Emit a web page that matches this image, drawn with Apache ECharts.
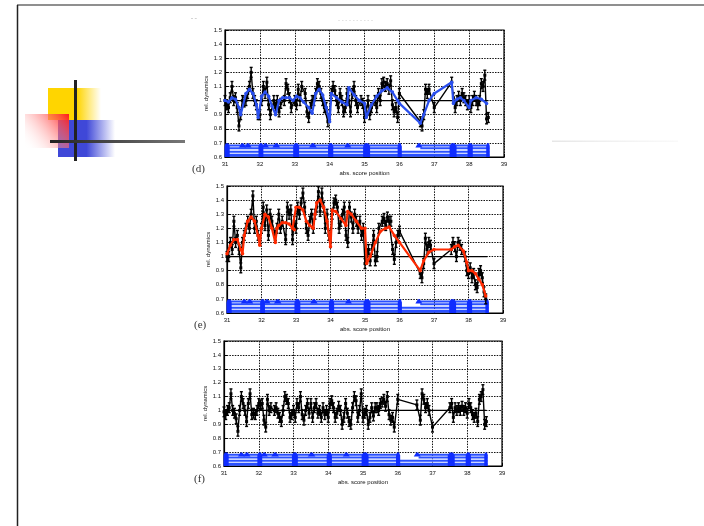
<!DOCTYPE html>
<html><head><meta charset="utf-8">
<script src="https://cdn.jsdelivr.net/npm/echarts@6/dist/echarts.min.js"></script>
<style>html,body{margin:0;padding:0;background:#fff}#c{width:704px;height:526px}</style>
</head><body><div id="c"></div>
<script>
// ---------- data ----------
const xTicks = [31,32,33,34,35,36,37,38,39];
const yTicks = [0.6,0.7,0.8,0.9,1,1.1,1.2,1.3,1.4,1.5];
const panelLabels = ['(d)','(e)','(f)'];
const xName = 'abs. score position';
const yName = 'rel. dynamics';

const blackD = [[31.0,1.0],[31.05,0.97],[31.1,0.95],[31.15,1.02],[31.2,1.1],[31.25,1.0],[31.3,1.02],[31.35,0.95],[31.4,0.82],[31.45,0.9],[31.5,1.0],[31.55,0.99],[31.6,1.0],[31.65,1.05],[31.7,1.1],[31.75,1.2],[31.8,1.05],[31.85,1.0],[31.9,0.97],[31.95,0.9],[32.0,0.9],[32.05,1.0],[32.1,1.1],[32.15,1.05],[32.2,1.13],[32.25,0.97],[32.3,0.9],[32.4,1.0],[32.45,0.95],[32.5,1.0],[32.55,0.92],[32.6,0.98],[32.7,1.0],[32.75,1.12],[32.8,1.08],[32.85,1.02],[32.9,0.95],[33.0,1.0],[33.05,0.97],[33.1,1.08],[33.15,1.0],[33.2,1.1],[33.3,1.05],[33.35,0.92],[33.4,0.88],[33.45,0.95],[33.5,1.0],[33.55,1.0],[33.6,1.05],[33.65,1.12],[33.7,1.1],[33.75,1.05],[33.8,1.0],[33.85,0.95],[33.9,0.95],[33.95,0.85],[34.0,0.9],[34.05,1.05],[34.1,1.1],[34.15,1.07],[34.2,1.0],[34.25,0.95],[34.3,1.05],[34.35,1.0],[34.4,0.92],[34.45,0.95],[34.5,1.05],[34.55,1.0],[34.6,0.92],[34.65,1.05],[34.7,1.1],[34.75,1.0],[34.8,0.95],[34.9,1.0],[34.95,0.98],[35.0,0.88],[35.05,0.92],[35.1,1.0],[35.15,0.9],[35.2,0.95],[35.3,1.0],[35.35,0.95],[35.4,1.05],[35.45,1.0],[35.5,1.12],[35.55,1.13],[35.6,1.1],[35.65,1.12],[35.7,1.08],[35.75,1.14],[35.8,0.97],[35.85,0.92],[35.9,0.95],[35.95,0.88],[36.0,1.05],[36.6,0.85],[36.65,0.82],[36.7,0.9],[36.75,1.08],[36.8,1.05],[36.85,1.08],[37.0,0.95],[37.5,1.13],[37.55,1.02],[37.6,0.95],[37.65,1.0],[37.7,1.03],[37.75,1.0],[37.8,1.05],[37.85,1.02],[37.9,1.0],[37.95,0.97],[38.0,1.0],[38.05,0.95],[38.1,1.0],[38.15,1.03],[38.2,1.0],[38.25,0.97],[38.3,1.0],[38.35,1.12],[38.4,1.1],[38.45,1.18],[38.5,0.87],[38.55,0.88]];

const blueD = [[31.0,1.0],[31.1,0.99],[31.2,1.02],[31.3,1.01],[31.4,0.95],[31.45,0.9],[31.6,1.05],[31.7,1.08],[31.8,1.05],[31.9,0.97],[31.95,0.88],[32.05,1.03],[32.15,1.06],[32.25,1.03],[32.35,0.96],[32.45,0.9],[32.55,1.0],[32.65,1.02],[32.75,1.02],[32.85,1.02],[32.95,1.0],[33.05,1.03],[33.15,1.02],[33.25,0.99],[33.4,0.95],[33.5,0.91],[33.6,1.05],[33.7,1.08],[33.8,1.04],[33.9,0.95],[34.0,0.85],[34.05,1.05],[34.2,1.02],[34.35,0.99],[34.5,0.97],[34.55,1.09],[34.7,1.04],[34.85,1.0],[35.0,0.98],[35.05,0.88],[35.2,0.97],[35.35,1.03],[35.5,1.07],[35.65,1.09],[35.8,1.06],[35.95,1.0],[36.0,0.98],[36.6,0.84],[36.7,0.9],[36.85,1.0],[37.0,1.05],[37.5,1.13],[37.55,0.98],[37.65,1.01],[37.75,1.02],[37.85,1.0],[38.0,0.95],[38.05,1.0],[38.2,1.02],[38.35,1.01],[38.5,0.98]];

const blackE = [[31.0,1.0],[31.05,1.0],[31.1,1.1],[31.15,1.05],[31.2,1.25],[31.25,1.1],[31.3,1.15],[31.35,1.05],[31.4,0.92],[31.45,1.1],[31.5,1.15],[31.55,1.2],[31.6,1.25],[31.65,1.2],[31.7,1.3],[31.75,1.43],[31.8,1.2],[31.85,1.25],[31.9,1.15],[31.95,1.12],[32.0,1.2],[32.05,1.35],[32.1,1.22],[32.15,1.33],[32.2,1.15],[32.25,1.3],[32.3,1.25],[32.4,1.15],[32.45,1.2],[32.5,1.3],[32.55,1.2],[32.6,1.25],[32.7,1.12],[32.75,1.35],[32.8,1.3],[32.85,1.33],[32.9,1.12],[32.95,1.25],[33.0,1.2],[33.05,1.35],[33.1,1.3],[33.15,1.38],[33.2,1.45],[33.25,1.35],[33.3,1.2],[33.35,1.15],[33.4,1.25],[33.45,1.3],[33.5,1.2],[33.55,1.3],[33.6,1.35],[33.65,1.46],[33.7,1.32],[33.75,1.45],[33.8,1.35],[33.85,1.2],[33.9,1.3],[33.95,1.15],[34.0,1.1],[34.05,1.3],[34.1,1.38],[34.15,1.4],[34.2,1.35],[34.25,1.2],[34.3,1.25],[34.35,1.3],[34.4,1.35],[34.45,1.15],[34.5,1.1],[34.55,1.35],[34.6,1.28],[34.65,1.2],[34.7,1.3],[34.75,1.25],[34.8,1.2],[34.85,1.25],[34.9,1.15],[34.95,1.2],[35.0,0.95],[35.05,1.0],[35.1,1.05],[35.15,0.97],[35.2,1.05],[35.25,1.15],[35.3,0.97],[35.35,1.0],[35.4,1.2],[35.5,1.25],[35.55,1.27],[35.6,1.22],[35.65,1.28],[35.7,1.25],[35.75,1.25],[35.8,1.05],[35.85,0.98],[35.9,1.1],[35.95,1.15],[36.0,1.18],[36.6,0.88],[36.65,0.85],[36.7,0.95],[36.75,1.13],[36.8,1.05],[36.85,1.1],[36.9,1.08],[37.0,0.95],[37.5,1.05],[37.55,1.1],[37.6,1.07],[37.65,1.0],[37.7,1.1],[37.75,1.08],[37.8,1.05],[37.9,1.0],[37.95,0.9],[38.0,0.88],[38.05,0.92],[38.1,0.85],[38.15,0.88],[38.2,0.8],[38.25,0.78],[38.3,0.88],[38.35,0.9],[38.4,0.85],[38.45,0.75],[38.5,0.7]];

const redE = [[31.0,1.02],[31.1,1.08],[31.2,1.12],[31.3,1.12],[31.4,1.05],[31.45,1.02],[31.5,1.15],[31.6,1.25],[31.7,1.28],[31.8,1.25],[31.9,1.15],[31.95,1.08],[32.0,1.2],[32.1,1.3],[32.2,1.28],[32.3,1.2],[32.4,1.1],[32.45,1.2],[32.5,1.22],[32.6,1.24],[32.7,1.24],[32.8,1.23],[32.9,1.2],[32.95,1.19],[33.0,1.35],[33.1,1.35],[33.2,1.33],[33.3,1.25],[33.4,1.22],[33.5,1.2],[33.55,1.3],[33.6,1.38],[33.7,1.4],[33.8,1.35],[33.9,1.25],[34.0,1.07],[34.05,1.33],[34.15,1.32],[34.3,1.27],[34.45,1.22],[34.5,1.32],[34.6,1.3],[34.75,1.25],[34.9,1.2],[35.0,1.2],[35.05,0.95],[35.15,1.0],[35.3,1.1],[35.45,1.18],[35.6,1.2],[35.7,1.21],[35.85,1.15],[36.0,1.1],[36.6,0.9],[36.7,0.97],[36.85,1.03],[37.0,1.05],[37.5,1.05],[37.6,1.07],[37.7,1.08],[37.85,1.04],[37.95,0.96],[38.0,0.9],[38.1,0.9],[38.2,0.88],[38.3,0.84],[38.4,0.8],[38.5,0.72]];

const blackF = [[31.0,0.99],[31.05,0.97],[31.1,1.0],[31.15,1.02],[31.2,1.12],[31.25,1.0],[31.3,0.98],[31.35,0.94],[31.4,0.85],[31.45,1.0],[31.5,1.1],[31.55,1.05],[31.6,1.0],[31.65,0.92],[31.7,1.05],[31.75,1.12],[31.8,0.97],[31.85,0.98],[31.9,0.97],[31.95,1.0],[32.0,1.05],[32.05,1.04],[32.1,1.05],[32.15,0.93],[32.2,0.88],[32.25,1.08],[32.3,1.0],[32.35,1.02],[32.45,1.0],[32.5,1.02],[32.55,0.98],[32.6,0.95],[32.65,0.92],[32.7,1.0],[32.75,1.1],[32.8,1.08],[32.85,1.05],[32.9,0.95],[32.95,0.97],[33.0,1.0],[33.05,0.95],[33.1,1.05],[33.15,1.02],[33.2,1.1],[33.25,0.97],[33.3,0.93],[33.35,1.0],[33.4,1.05],[33.45,0.98],[33.5,1.05],[33.55,0.95],[33.6,1.02],[33.65,1.05],[33.7,0.98],[33.75,1.0],[33.8,0.95],[33.85,1.02],[33.9,0.97],[33.95,1.0],[34.0,0.95],[34.05,1.05],[34.1,1.07],[34.15,1.02],[34.2,0.95],[34.25,0.98],[34.3,1.03],[34.35,1.0],[34.4,0.9],[34.45,0.95],[34.5,1.05],[34.55,0.98],[34.6,0.92],[34.65,0.9],[34.7,1.02],[34.75,1.1],[34.8,1.07],[34.85,0.95],[34.9,1.0],[34.95,1.12],[35.0,0.95],[35.05,0.98],[35.1,1.0],[35.15,0.9],[35.2,0.95],[35.25,1.02],[35.3,0.96],[35.35,1.02],[35.4,1.02],[35.45,1.0],[35.5,1.05],[35.55,1.06],[35.6,1.08],[35.65,1.03],[35.7,1.1],[35.75,0.97],[35.8,0.93],[35.85,0.95],[35.9,0.88],[36.0,1.08],[36.55,1.04],[36.65,0.93],[36.7,1.12],[36.75,1.08],[36.8,1.02],[36.85,1.05],[36.9,1.0],[37.0,0.88],[37.5,1.02],[37.55,1.05],[37.6,0.95],[37.65,1.02],[37.7,1.0],[37.75,1.02],[37.8,1.0],[37.85,1.03],[37.9,1.0],[37.95,1.02],[38.0,0.98],[38.05,1.05],[38.1,1.02],[38.15,0.97],[38.2,0.95],[38.25,0.98],[38.3,0.92],[38.35,1.08],[38.4,1.1],[38.45,1.15],[38.5,0.9],[38.55,0.92]];

const errHalf = 0.035;               // half-length of the error bars
const referenceLevel = [[31.0,1],[38.55,1]];
// beat/phrase markers of the score band: [position, width, full-height flag]
const beats = [[31.06,0.15,1],[31.5,0.2,0],[31.66,0.2,0],[32.03,0.14,1],[32.16,0.2,0],[32.47,0.22,0],[33.04,0.17,1],[33.52,0.22,0],[34.03,0.15,1],[34.52,0.2,0],[35.06,0.2,1],[36.01,0.12,1],[36.56,0.2,0],[37.54,0.2,1],[38.03,0.15,1],[38.54,0.1,1]];
// horizontal band lines: [level, from, to, width]
const bandLines = [[0.681,31.0,36.0,2],[0.681,36.6,38.58,2],[0.662,31.0,36.0,2],[0.662,36.6,38.58,2],[0.637,31.0,38.58,2],[0.612,31.0,38.58,3]];

// ---------- layout ----------
const grids = [
  {left:225, top:30, width:279, height:127},
  {left:227, top:186, width:276, height:127},
  {left:224, top:341, width:278, height:125}
];
const labelPos = [[192,170],[194,326],[194,480]];

const chart = echarts.init(document.getElementById('c'), null, {renderer:'canvas'});
const axisFont = {fontSize:6, color:'#111', fontFamily:'Arial'};

const xAxes = grids.map((g,i)=>({
  type:'value', gridIndex:i, min:31, max:39, interval:1,
  axisLine:{show:true, lineStyle:{color:'#000', width:1.2}},
  axisTick:{inside:true, length:3, lineStyle:{color:'#000'}},
  axisLabel:Object.assign({margin:4, formatter:v=>xTicks.includes(v)?String(v):''}, axisFont),
  splitLine:{show:true, lineStyle:{color:'#111', type:[1.5,1.2], width:1}},
  name:xName, nameLocation:'middle', nameGap:13,
  nameTextStyle:{fontSize:6, color:'#111', fontFamily:'Arial'}
}));
const yAxes = grids.map((g,i)=>({
  type:'value', gridIndex:i, min:0.6, max:1.5, interval:0.1,
  axisLine:{show:true, lineStyle:{color:'#000', width:1.2}},
  axisTick:{inside:true, length:3, lineStyle:{color:'#000'}},
  axisLabel:Object.assign({margin:3, formatter:v=>{const r=Math.round(v*10)/10; return yTicks.includes(r)?String(r):'';}}, axisFont),
  splitLine:{show:true, lineStyle:{color:'#111', type:[1.5,1.2], width:1}},
  name:yName, nameLocation:'middle', nameGap:14,
  nameTextStyle:{fontSize:6, color:'#111', fontFamily:'Arial'}
}));

function errSeries(data, i){
  return {
    type:'custom', xAxisIndex:i, yAxisIndex:i, data:data, z:3,
    renderItem:(params, api)=>{
      const x = api.value(0), y = api.value(1);
      const a = api.coord([x, y-errHalf]), b = api.coord([x, y+errHalf]);
      const st = {stroke:'#000', lineWidth:1.4};
      return {type:'group', children:[
        {type:'line', shape:{x1:a[0],y1:a[1],x2:b[0],y2:b[1]}, style:st},
        {type:'line', shape:{x1:a[0]-1.5,y1:a[1],x2:a[0]+1.5,y2:a[1]}, style:st},
        {type:'line', shape:{x1:b[0]-1.5,y1:b[1],x2:b[0]+1.5,y2:b[1]}, style:st}
      ]};
    }
  };
}
function bandSeries(i){
  return [{
    type:'custom', xAxisIndex:i, yAxisIndex:i, data:bandLines, z:2,
    renderItem:(params, api)=>{
      const lv = api.value(0);
      const a = api.coord([api.value(1), lv]), b = api.coord([api.value(2), lv]);
      return {type:'line', shape:{x1:a[0],y1:a[1],x2:b[0],y2:b[1]}, style:{stroke:'#2a50ff', lineWidth:api.value(3)}};
    }
  },{
    type:'custom', xAxisIndex:i, yAxisIndex:i, data:beats, z:2,
    renderItem:(params, api)=>{
      const p = api.value(0), w = api.value(1), full = api.value(2);
      const hw = w/2;
      let pts;
      if (full) {
        pts = [api.coord([p-hw,0.6]), api.coord([p-hw,0.675]), api.coord([p-hw*0.5,0.697]),
               api.coord([p+hw*0.5,0.697]), api.coord([p+hw,0.675]), api.coord([p+hw,0.6])];
      } else {
        pts = [api.coord([p-hw,0.668]), api.coord([p-hw*0.25,0.697]), api.coord([p+hw*0.25,0.697]), api.coord([p+hw,0.668])];
      }
      return {type:'polygon', shape:{points:pts}, style:{fill:'#0f2cff'}};
    }
  }];
}
function refLine(i){
  return {type:'line', xAxisIndex:i, yAxisIndex:i, data:referenceLevel, symbol:'none', z:2,
    lineStyle:{color:'#000', width:1.3}, silent:true};
}
function blackLine(data,i){
  return {type:'line', xAxisIndex:i, yAxisIndex:i, data:data, symbol:'rect', symbolSize:3, z:3,
    itemStyle:{color:'#000'}, lineStyle:{color:'#000', width:1.4}, silent:true};
}
function smoothLine(data,i,color){
  return {type:'line', xAxisIndex:i, yAxisIndex:i, data:data, symbol:'circle', symbolSize:3.5, z:4,
    itemStyle:{color:color}, lineStyle:{color:color, width:2.2}, silent:true};
}

const series = [];
[0,1,2].forEach(i=>{ series.push(...bandSeries(i)); series.push(refLine(i)); });
series.push(blackLine(blackD,0), errSeries(blackD,0), smoothLine(blueD,0,'#2a4fee'));
series.push(blackLine(blackE,1), errSeries(blackE,1), smoothLine(redE,1,'#ff2a00'));
series.push(blackLine(blackF,2), errSeries(blackF,2));

const lg = (stops)=>new echarts.graphic.LinearGradient(0,0,1,0,stops);
const graphic = [
  // slide frame
  {type:'line', shape:{x1:17,y1:5,x2:704,y2:5}, style:{stroke:'#6a6a6a', lineWidth:1.5}},
  {type:'line', shape:{x1:17.5,y1:5,x2:17.5,y2:526}, style:{stroke:'#222', lineWidth:1.5}},
  // decoration
  {type:'rect', shape:{x:48,y:88,width:53,height:32}, style:{fill:lg([{offset:0,color:'#ffd500'},{offset:0.55,color:'#ffd500'},{offset:1,color:'rgba(255,213,0,0)'}])}},
  {type:'rect', shape:{x:58,y:120,width:57,height:37}, style:{fill:lg([{offset:0,color:'#3f48d8'},{offset:0.5,color:'#3f48d8'},{offset:1,color:'rgba(63,72,216,0)'}])}},
  {type:'rect', shape:{x:25,y:114,width:44,height:34}, style:{fill:new echarts.graphic.LinearGradient(1,0,0,1,[{offset:0,color:'#ff1a1a'},{offset:1,color:'rgba(255,255,255,0)'}])}},
  {type:'rect', shape:{x:74,y:80,width:3,height:81}, style:{fill:'#222'}},
  {type:'rect', shape:{x:50,y:140,width:135,height:3}, style:{fill:lg([{offset:0,color:'#222'},{offset:1,color:'#777'}])}},
  {type:'rect', shape:{x:552,y:140.5,width:126,height:1.5}, style:{fill:lg([{offset:0,color:'#e6e6e6'},{offset:1,color:'rgba(240,240,240,0.4)'}])}},
  // faint scanned title remnants
  {type:'text', x:338, y:17, style:{text:'- - - - - - - - - -', fontSize:6, fill:'#c8c8c8', fontFamily:'Arial'}},
  {type:'text', x:191, y:17, style:{text:'\u02dc \u02dc', fontSize:6, fill:'#aaa', fontFamily:'Arial'}}
].concat(panelLabels.map((t,i)=>({type:'text', x:labelPos[i][0], y:labelPos[i][1]-6,
  style:{text:t, fontSize:11, fill:'#333', fontFamily:'Liberation Serif'}})));

chart.setOption({
  animation:false,
  backgroundColor:'#fff',
  grid:grids.map(g=>Object.assign({show:true, borderColor:'#000', borderWidth:1.2, backgroundColor:'transparent'}, g)),
  xAxis:xAxes, yAxis:yAxes,
  series:series,
  graphic:graphic
});
</script></body></html>
